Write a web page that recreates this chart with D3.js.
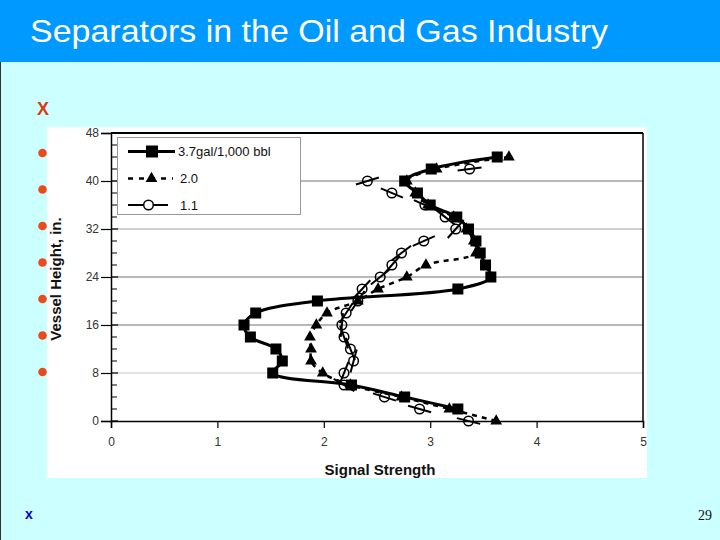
<!DOCTYPE html>
<html><head><meta charset="utf-8">
<script src="https://cdn.jsdelivr.net/npm/d3@7"></script>
<style>body{margin:0;background:#ccffff;overflow:hidden} svg{display:block}</style>
</head><body>
<svg id="c" width="720" height="540"></svg>
<script>
// ---- data ----
const title = "Separators in the Oil and Gas Industry";
const seriesNames = ["3.7gal/1,000 bbl", "2.0", "1.1"];
const xTitle = "Signal Strength";
const yTitle = "Vessel Height, in.";

const heightsA = [44,42,40,38,36,34,32,30,28,26,24,22,20,18,16,14,12,10,8,6,4,2];
const signalA  = [3.63,3.01,2.76,2.88,3.00,3.25,3.36,3.43,3.47,3.52,3.57,3.26,1.94,1.36,1.25,1.31,1.55,1.61,1.52,2.26,2.76,3.26];

const heightsB = [44,42,40,38,36,34,32,30,28,26,24,22,20,18,16,14,12,10,8,6,4,2,0];
const signalB  = [3.74,3.06,2.78,2.86,2.98,3.22,3.34,3.41,3.43,2.96,2.78,2.51,2.32,2.03,1.93,1.87,1.88,1.88,1.99,2.25,2.73,3.18,3.62];

const heightsC = [42,40,38,36,34,32,30,28,26,24,22,20,18,16,14,12,10,8,6,4,2,0];
const signalC  = [3.37,2.41,2.64,2.95,3.14,3.24,2.94,2.73,2.64,2.53,2.36,2.32,2.21,2.17,2.19,2.25,2.28,2.19,2.19,2.57,2.90,3.36];

const xTicks = [0,1,2,3,4,5];
const yTicks = [0,8,16,24,32,40,48];
const yMinorTicks = [2,4,6,10,12,14,18,20,22,26,28,30,34,36,38,42,44,46];
const gridValues = [8,16,24,32,40];
const bulletCount = 7;

// ---- drawing ----
const svg = d3.select("#c");
svg.append("rect").attr("width",720).attr("height",540).attr("fill","#ccffff");
svg.append("rect").attr("width",720).attr("height",62).attr("fill","#0099ff");
svg.append("line").attr("x1",0.5).attr("x2",0.5).attr("y1",62).attr("y2",540).attr("stroke","#333").attr("stroke-width",1);
svg.append("text").attr("x",30).attr("y",42).attr("fill","#fff")
  .attr("font-family","Liberation Sans, Arial, sans-serif").attr("font-size",32)
  .attr("textLength",578).attr("lengthAdjust","spacingAndGlyphs").text(title);

svg.append("text").attr("x",37).attr("y",115).attr("fill","#dd3a10")
  .attr("font-family","Liberation Sans, Arial, sans-serif").attr("font-weight","bold").attr("font-size",18).text("X");

// bullets
const bulletY = d3.scaleLinear().domain([0,bulletCount-1]).range([153,372]);
svg.append("g").selectAll("circle").data(d3.range(bulletCount)).join("circle")
  .attr("cx",42.5).attr("cy",d=>bulletY(d)).attr("r",4.3).attr("fill","#e94b1c");

// white figure box
svg.append("rect").attr("x",47).attr("y",127).attr("width",600).attr("height",351).attr("fill","#fff");

const x = d3.scaleLinear().domain([0,5]).range([111,643]);
const y = d3.scaleLinear().domain([0,48]).range([421,133]);
const font = "Liberation Sans, Arial, sans-serif";

// grid
svg.append("g").selectAll("line").data(gridValues).join("line")
  .attr("x1",x(0)).attr("x2",x(5)).attr("y1",d=>y(d)).attr("y2",d=>y(d))
  .attr("stroke",d=>d===8?"#c8c8c8":(d===32?"#a0a0a0":"#707070")).attr("stroke-width",1);

// y axis
const gy = svg.append("g").attr("transform",`translate(${x(0)},0)`)
  .call(d3.axisLeft(y).tickValues(yTicks).tickSize(10).tickPadding(2).tickFormat(d3.format("d")));
gy.select(".domain").attr("stroke","#000").attr("stroke-width",1.5);
gy.selectAll(".tick line").attr("stroke","#000").attr("stroke-width",1.2);
gy.selectAll(".tick text").attr("font-family",font).attr("font-size",12).attr("fill","#333");
svg.append("g").selectAll("line").data(yTicks).join("line")
  .attr("x1",x(0)).attr("x2",x(0)+7).attr("y1",d=>y(d)).attr("y2",d=>y(d)).attr("stroke","#000").attr("stroke-width",1.2);
svg.append("g").selectAll("line").data(yMinorTicks).join("line")
  .attr("x1",x(0)).attr("x2",x(0)+6).attr("y1",d=>y(d)).attr("y2",d=>y(d)).attr("stroke","#000").attr("stroke-width",1);

// x axis
const gx = svg.append("g").attr("transform",`translate(0,${y(0)})`)
  .call(d3.axisBottom(x).tickValues(xTicks).tickSize(7).tickPadding(9).tickFormat(d3.format("d")));
gx.select(".domain").attr("stroke","#000").attr("stroke-width",1.5);
gx.selectAll(".tick line").attr("stroke","#000").attr("stroke-width",1.2);
gx.selectAll(".tick text").attr("font-family",font).attr("font-size",12).attr("fill","#333");

// frame top & right
svg.append("line").attr("x1",x(0)).attr("x2",x(5)).attr("y1",y(48)).attr("y2",y(48)).attr("stroke","#000").attr("stroke-width",2);
svg.append("line").attr("x1",x(5)).attr("x2",x(5)).attr("y1",y(48)).attr("y2",y(0)).attr("stroke","#000").attr("stroke-width",1.5);

// axis titles
svg.append("text").attr("x",380).attr("y",475).attr("text-anchor","middle")
  .attr("font-family",font).attr("font-weight","bold").attr("font-size",15).attr("fill","#111").text(xTitle);
svg.append("text").attr("transform","translate(61,279) rotate(-90)").attr("text-anchor","middle")
  .attr("font-family",font).attr("font-weight","bold").attr("font-size",15).attr("fill","#111").text(yTitle);

const ptsA = heightsA.map((h,i)=>[signalA[i],h]);
const ptsB = heightsB.map((h,i)=>[signalB[i],h]);
const ptsC = heightsC.map((h,i)=>[signalC[i],h]);

const line = d3.line().x(d=>x(d[0])).y(d=>y(d[1])).curve(d3.curveCatmullRom.alpha(0.5));

// lines
svg.append("path").attr("d",line(ptsB)).attr("fill","none").attr("stroke","#000").attr("stroke-width",2.5).attr("stroke-dasharray","5,5");
svg.append("path").attr("d",line(ptsA)).attr("fill","none").attr("stroke","#000").attr("stroke-width",3);

// circle series: short line pieces along the curve at each marker
const segC = ptsC.map((p,i)=>{
  const a = ptsC[Math.max(0,i-1)], b = ptsC[Math.min(ptsC.length-1,i+1)];
  let dx = x(b[0])-x(a[0]), dy = y(b[1])-y(a[1]);
  const L = Math.hypot(dx,dy)||1; dx/=L; dy/=L;
  const cx = x(p[0]), cy = y(p[1]);
  return [cx-dx*12, cy-dy*12, cx+dx*12, cy+dy*12];
});
svg.append("g").selectAll("line").data(segC).join("line")
  .attr("x1",d=>d[0]).attr("y1",d=>d[1]).attr("x2",d=>d[2]).attr("y2",d=>d[3])
  .attr("stroke","#000").attr("stroke-width",2);

// markers
svg.append("g").selectAll("circle").data(ptsC).join("circle")
  .attr("cx",d=>x(d[0])).attr("cy",d=>y(d[1])).attr("r",4.8)
  .attr("fill","none").attr("stroke","#000").attr("stroke-width",1.5);
const tri = d3.symbol().type(d3.symbolTriangle).size(60);
svg.append("g").selectAll("path").data(ptsB).join("path")
  .attr("transform",d=>`translate(${x(d[0])},${y(d[1])})`).attr("d",tri()).attr("fill","#000");
svg.append("g").selectAll("rect").data(ptsA).join("rect")
  .attr("x",d=>x(d[0])-5.5).attr("y",d=>y(d[1])-5.5).attr("width",11).attr("height",11).attr("fill","#000");

// legend
const lg = svg.append("g");
lg.append("rect").attr("x",117.5).attr("y",137.5).attr("width",183).attr("height",77).attr("fill","#fff").attr("stroke","#999");
const rows = [151.5,178.5,205];
lg.append("line").attr("x1",128).attr("x2",175).attr("y1",rows[0]).attr("y2",rows[0]).attr("stroke","#000").attr("stroke-width",3);
lg.append("rect").attr("x",146).attr("y",rows[0]-6).attr("width",12).attr("height",12).attr("fill","#000");
lg.append("line").attr("x1",128).attr("x2",173).attr("y1",rows[1]).attr("y2",rows[1]).attr("stroke","#000").attr("stroke-width",2.5).attr("stroke-dasharray","5,6");
lg.append("path").attr("transform",`translate(151.5,${rows[1]})`).attr("d",tri()).attr("fill","#000");
lg.append("line").attr("x1",128).attr("x2",143.5).attr("y1",rows[2]).attr("y2",rows[2]).attr("stroke","#000").attr("stroke-width",2);
lg.append("line").attr("x1",153.5).attr("x2",168).attr("y1",rows[2]).attr("y2",rows[2]).attr("stroke","#000").attr("stroke-width",2);
lg.append("circle").attr("cx",148.5).attr("cy",rows[2]).attr("r",4.8).attr("fill","none").attr("stroke","#000").attr("stroke-width",1.5);
lg.selectAll("text.l").data(seriesNames).join("text").attr("class","l")
  .attr("x",(d,i)=>i===0?178:180).attr("y",(d,i)=>rows[i]+4.5)
  .attr("font-family",font).attr("font-size",13).attr("fill","#111").text(d=>d);

// footer
svg.append("text").attr("x",25).attr("y",519).attr("fill","#0000cc")
  .attr("font-family",font).attr("font-weight","bold").attr("font-size",14).text("x");
svg.append("text").attr("x",712).attr("y",520).attr("text-anchor","end").attr("fill","#111")
  .attr("font-family","Liberation Serif, Times New Roman, serif").attr("font-size",14).text("29");
</script>
</body></html>
